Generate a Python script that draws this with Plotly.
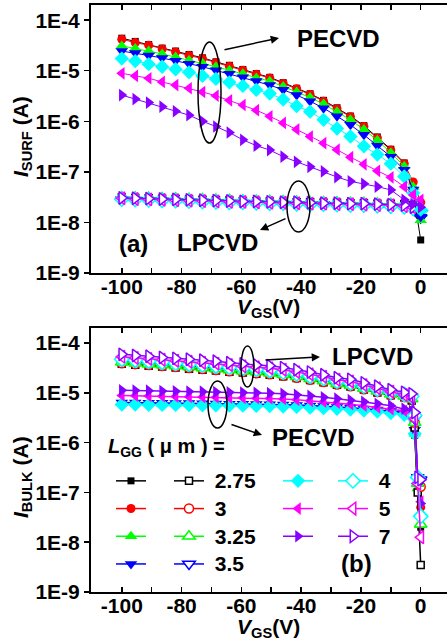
import plotly.graph_objects as go

FONT = "Liberation Sans, Arial, sans-serif"

# ---------------- data ----------------
LGG = ["2.75", "3", "3.25", "3.5", "4", "5", "7"]
COLORS = ["#000000", "#FF0000", "#00FF00", "#0000FF", "#00FFFF", "#FF00FF", "#8800FF"]
SYMBOLS = ["square", "circle", "triangle-up", "triangle-down", "diamond", "triangle-left", "triangle-right"]

VGS_SURF = [-100, -95.5, -91, -86.5, -82, -77.5, -73, -68.5, -64, -59.5, -55, -50.5,
            -46, -41.5, -37, -32.5, -28, -23.5, -19, -14.5, -10, -5.5, -2.5, 0]
VGS_BULK = [-100, -95.5, -91, -86.5, -82, -77.5, -73, -68.5, -64, -59.5, -55, -50.5,
            -46, -41.5, -37, -32.5, -28, -23.5, -19, -14.5, -10, -5.5, -3, -2, -1, 0]

# (a) I_SURF, PECVD (filled symbols)
SURF_PE_275 = [4.4e-5, 3.8e-5, 3.3e-5, 2.8e-5, 2.45e-5, 2.1e-5, 1.8e-5, 1.5e-5, 1.28e-5, 1.06e-5, 8.8e-6, 7.4e-6,
               5.8e-6, 4.5e-6, 3.5e-6, 2.6e-6, 1.85e-6, 1.27e-6, 8.2e-7, 4.9e-7, 2.8e-7, 1.5e-7, 4.0e-8, 4.5e-9]
SURF_PE_3 = [4.2e-5, 3.6e-5, 3.2e-5, 2.7e-5, 2.35e-5, 2.0e-5, 1.74e-5, 1.45e-5, 1.23e-5, 1.02e-5, 8.5e-6, 7.2e-6,
             5.6e-6, 4.4e-6, 3.4e-6, 2.5e-6, 1.78e-6, 1.23e-6, 7.9e-7, 4.7e-7, 2.7e-7, 1.45e-7, 6.3e-8, 2.5e-8]
SURF_PE_325 = [3.1e-5, 2.75e-5, 2.45e-5, 2.15e-5, 1.86e-5, 1.62e-5, 1.41e-5, 1.2e-5, 1.02e-5, 8.7e-6, 7.2e-6, 6.2e-6,
               4.9e-6, 3.8e-6, 2.95e-6, 2.2e-6, 1.55e-6, 1.07e-6, 6.9e-7, 4.2e-7, 2.4e-7, 1.29e-7, 5.0e-8, 1.1e-8]
SURF_PE_35 = [2.45e-5, 2.25e-5, 2.0e-5, 1.78e-5, 1.58e-5, 1.38e-5, 1.2e-5, 1.02e-5, 8.7e-6, 7.4e-6, 6.3e-6, 5.2e-6,
              4.2e-6, 3.3e-6, 2.5e-6, 1.82e-6, 1.26e-6, 8.5e-7, 5.4e-7, 3.3e-7, 2.0e-7, 1.1e-7, 4.5e-8, 1.3e-8]
SURF_PE_4 = [1.74e-5, 1.55e-5, 1.35e-5, 1.2e-5, 1.07e-5, 9.3e-6, 7.9e-6, 6.9e-6, 5.9e-6, 5.0e-6, 4.2e-6, 3.55e-6,
             2.7e-6, 2.0e-6, 1.55e-6, 1.07e-6, 7.2e-7, 5.0e-7, 3.2e-7, 2.2e-7, 1.45e-7, 8.1e-8, 3.8e-8, 1.8e-8]
SURF_PE_5 = [8.9e-6, 7.9e-6, 7.1e-6, 6.0e-6, 5.2e-6, 4.5e-6, 3.8e-6, 3.2e-6, 2.6e-6, 2.1e-6, 1.66e-6, 1.26e-6,
             9.3e-7, 6.9e-7, 5.0e-7, 3.7e-7, 2.75e-7, 1.95e-7, 1.41e-7, 1.05e-7, 7.8e-8, 5.1e-8, 3.5e-8, 2.8e-8]
SURF_PE_7 = [3.3e-6, 2.75e-6, 2.35e-6, 1.95e-6, 1.58e-6, 1.32e-6, 1.0e-6, 7.9e-7, 6.0e-7, 4.3e-7, 3.3e-7, 2.7e-7,
             2.0e-7, 1.58e-7, 1.26e-7, 1.02e-7, 7.9e-8, 6.5e-8, 5.8e-8, 5.1e-8, 4.4e-8, 2.8e-8, 2.3e-8, 2.0e-8]

# (a) I_SURF, LPCVD (open symbols)
SURF_LP_275 = [3.1e-8, 3.05e-8, 3.0e-8, 2.95e-8, 2.9e-8, 2.85e-8, 2.8e-8, 2.75e-8, 2.7e-8, 2.65e-8, 2.6e-8, 2.6e-8,
               2.55e-8, 2.5e-8, 2.5e-8, 2.45e-8, 2.45e-8, 2.4e-8, 2.4e-8, 2.35e-8, 2.35e-8, 2.3e-8, 2.2e-8, 1.7e-8]
SURF_LP_3 = [3.0e-8, 2.95e-8, 2.9e-8, 2.85e-8, 2.8e-8, 2.75e-8, 2.7e-8, 2.65e-8, 2.6e-8, 2.6e-8, 2.55e-8, 2.5e-8,
             2.5e-8, 2.45e-8, 2.4e-8, 2.4e-8, 2.35e-8, 2.35e-8, 2.3e-8, 2.3e-8, 2.25e-8, 2.2e-8, 2.0e-8, 1.6e-8]
SURF_LP_325 = [3.2e-8, 3.15e-8, 3.1e-8, 3.05e-8, 3.0e-8, 2.95e-8, 2.9e-8, 2.85e-8, 2.8e-8, 2.75e-8, 2.7e-8, 2.7e-8,
               2.65e-8, 2.6e-8, 2.55e-8, 2.55e-8, 2.5e-8, 2.45e-8, 2.45e-8, 2.4e-8, 2.35e-8, 2.3e-8, 2.0e-8, 1.5e-8]
SURF_LP_35 = [2.8e-8, 2.75e-8, 2.7e-8, 2.65e-8, 2.6e-8, 2.55e-8, 2.5e-8, 2.45e-8, 2.4e-8, 2.4e-8, 2.35e-8, 2.3e-8,
              2.3e-8, 2.25e-8, 2.2e-8, 2.2e-8, 2.15e-8, 2.1e-8, 2.1e-8, 2.05e-8, 2.0e-8, 1.95e-8, 1.8e-8, 1.25e-8]
SURF_LP_4 = [2.9e-8, 2.85e-8, 2.8e-8, 2.75e-8, 2.7e-8, 2.65e-8, 2.6e-8, 2.55e-8, 2.5e-8, 2.5e-8, 2.45e-8, 2.4e-8,
             2.4e-8, 2.35e-8, 2.3e-8, 2.3e-8, 2.25e-8, 2.2e-8, 2.2e-8, 2.15e-8, 2.1e-8, 2.05e-8, 1.9e-8, 1.7e-8]
SURF_LP_5 = [3.0e-8, 2.9e-8, 2.85e-8, 2.8e-8, 2.75e-8, 2.7e-8, 2.65e-8, 2.6e-8, 2.55e-8, 2.55e-8, 2.5e-8, 2.45e-8,
             2.45e-8, 2.4e-8, 2.35e-8, 2.35e-8, 2.3e-8, 2.3e-8, 2.25e-8, 2.2e-8, 2.2e-8, 2.1e-8, 1.95e-8, 1.8e-8]
SURF_LP_7 = [3.05e-8, 3.0e-8, 2.95e-8, 2.9e-8, 2.85e-8, 2.8e-8, 2.75e-8, 2.7e-8, 2.65e-8, 2.6e-8, 2.6e-8, 2.55e-8,
             2.5e-8, 2.5e-8, 2.45e-8, 2.4e-8, 2.4e-8, 2.35e-8, 2.35e-8, 2.3e-8, 2.25e-8, 2.2e-8, 2.0e-8, 1.75e-8]

# (b) I_BULK, PECVD (filled symbols)
BULK_PE_275 = [6.1e-6, 6.05e-6, 6.0e-6, 6.0e-6, 5.95e-6, 5.9e-6, 5.85e-6, 5.8e-6, 5.8e-6, 5.75e-6, 5.7e-6, 5.65e-6,
               5.55e-6, 5.45e-6, 5.3e-6, 5.15e-6, 5.0e-6, 4.85e-6, 4.65e-6, 4.45e-6, 4.15e-6, 3.85e-6, 3.5e-6, 1.4e-6, 1.0e-7, 2.0e-8]
BULK_PE_3 = [6.0e-6, 6.0e-6, 5.95e-6, 5.9e-6, 5.9e-6, 5.85e-6, 5.8e-6, 5.8e-6, 5.75e-6, 5.7e-6, 5.65e-6, 5.6e-6,
             5.5e-6, 5.4e-6, 5.25e-6, 5.1e-6, 4.95e-6, 4.8e-6, 4.6e-6, 4.4e-6, 4.1e-6, 3.8e-6, 3.5e-6, 1.5e-6, 1.5e-7, 5.0e-8]
BULK_PE_325 = [6.2e-6, 6.2e-6, 6.15e-6, 6.1e-6, 6.05e-6, 6.0e-6, 6.0e-6, 5.95e-6, 5.9e-6, 5.85e-6, 5.8e-6, 5.75e-6,
               5.65e-6, 5.55e-6, 5.4e-6, 5.25e-6, 5.1e-6, 4.9e-6, 4.7e-6, 4.5e-6, 4.2e-6, 3.9e-6, 3.6e-6, 1.5e-6, 1.2e-7, 2.2e-8]
BULK_PE_35 = [6.4e-6, 6.35e-6, 6.3e-6, 6.3e-6, 6.25e-6, 6.2e-6, 6.15e-6, 6.1e-6, 6.05e-6, 6.0e-6, 5.95e-6, 5.9e-6,
              5.8e-6, 5.7e-6, 5.55e-6, 5.4e-6, 5.2e-6, 5.0e-6, 4.8e-6, 4.6e-6, 4.3e-6, 4.0e-6, 3.7e-6, 1.8e-6, 2.0e-7, 1.8e-7]
BULK_PE_4 = [5.8e-6, 5.8e-6, 5.75e-6, 5.7e-6, 5.7e-6, 5.65e-6, 5.6e-6, 5.6e-6, 5.55e-6, 5.5e-6, 5.45e-6, 5.4e-6,
             5.3e-6, 5.2e-6, 5.05e-6, 4.9e-6, 4.75e-6, 4.6e-6, 4.4e-6, 4.2e-6, 3.9e-6, 3.6e-6, 3.3e-6, 1.5e-6, 1.5e-7, 3.5e-8]
BULK_PE_5 = [8.8e-6, 8.7e-6, 8.6e-6, 8.5e-6, 8.4e-6, 8.3e-6, 8.2e-6, 8.1e-6, 8.0e-6, 7.9e-6, 7.8e-6, 7.7e-6,
             7.5e-6, 7.2e-6, 6.9e-6, 6.6e-6, 6.3e-6, 5.9e-6, 5.5e-6, 5.1e-6, 4.7e-6, 4.3e-6, 3.9e-6, 1.8e-6, 1.5e-7, 6.5e-8]
BULK_PE_7 = [1.12e-5, 1.11e-5, 1.1e-5, 1.08e-5, 1.07e-5, 1.06e-5, 1.05e-5, 1.03e-5, 1.02e-5, 1.01e-5, 1.0e-5, 9.8e-6,
             9.5e-6, 9.1e-6, 8.7e-6, 8.1e-6, 7.6e-6, 7.1e-6, 6.6e-6, 6.0e-6, 5.5e-6, 4.8e-6, 4.3e-6, 2.0e-6, 2.0e-7, 6.0e-8]

# (b) I_BULK, LPCVD (open symbols)
BULK_LP_275 = [3.8e-5, 3.65e-5, 3.5e-5, 3.35e-5, 3.2e-5, 3.05e-5, 2.9e-5, 2.8e-5, 2.65e-5, 2.55e-5, 2.4e-5, 2.3e-5,
               2.15e-5, 1.97e-5, 1.8e-5, 1.63e-5, 1.45e-5, 1.33e-5, 1.16e-5, 1.01e-5, 8.9e-6, 8.1e-6, 7.0e-6, 2.0e-6, 1.0e-7, 3.5e-9]
BULK_LP_3 = [3.9e-5, 3.75e-5, 3.6e-5, 3.45e-5, 3.3e-5, 3.15e-5, 3.0e-5, 2.85e-5, 2.7e-5, 2.6e-5, 2.45e-5, 2.35e-5,
             2.2e-5, 2.0e-5, 1.82e-5, 1.65e-5, 1.47e-5, 1.35e-5, 1.18e-5, 1.03e-5, 9.0e-6, 8.2e-6, 7.5e-6, 2.5e-6, 2.0e-7, 1.3e-7]
BULK_LP_325 = [4.1e-5, 3.9e-5, 3.75e-5, 3.6e-5, 3.45e-5, 3.3e-5, 3.15e-5, 3.0e-5, 2.85e-5, 2.7e-5, 2.6e-5, 2.45e-5,
               2.3e-5, 2.1e-5, 1.9e-5, 1.72e-5, 1.52e-5, 1.4e-5, 1.22e-5, 1.07e-5, 9.3e-6, 8.5e-6, 7.5e-6, 2.5e-6, 1.5e-7, 2.3e-8]
BULK_LP_35 = [4.4e-5, 4.2e-5, 4.0e-5, 3.85e-5, 3.7e-5, 3.55e-5, 3.4e-5, 3.25e-5, 3.1e-5, 2.95e-5, 2.8e-5, 2.65e-5,
              2.5e-5, 2.3e-5, 2.05e-5, 1.85e-5, 1.62e-5, 1.5e-5, 1.3e-5, 1.13e-5, 9.8e-6, 8.8e-6, 8.0e-6, 3.0e-6, 2.0e-7, 1.8e-7]
BULK_LP_4 = [4.7e-5, 4.5e-5, 4.3e-5, 4.1e-5, 3.9e-5, 3.75e-5, 3.6e-5, 3.45e-5, 3.25e-5, 3.1e-5, 2.95e-5, 2.8e-5,
             2.6e-5, 2.4e-5, 2.15e-5, 1.95e-5, 1.7e-5, 1.57e-5, 1.36e-5, 1.18e-5, 1.02e-5, 9.2e-6, 8.5e-6, 3.5e-6, 2.0e-7, 3.3e-8]
BULK_LP_5 = [5.3e-5, 5.0e-5, 4.8e-5, 4.6e-5, 4.4e-5, 4.2e-5, 4.0e-5, 3.85e-5, 3.6e-5, 3.4e-5, 3.25e-5, 3.1e-5,
             2.9e-5, 2.6e-5, 2.35e-5, 2.1e-5, 1.82e-5, 1.68e-5, 1.43e-5, 1.23e-5, 1.05e-5, 9.0e-6, 8.0e-6, 3.0e-6, 1.5e-7, 1.25e-8]
BULK_LP_7 = [5.9e-5, 5.6e-5, 5.4e-5, 5.1e-5, 4.9e-5, 4.7e-5, 4.5e-5, 4.3e-5, 4.0e-5, 3.8e-5, 3.6e-5, 3.5e-5,
             3.2e-5, 2.9e-5, 2.6e-5, 2.3e-5, 2.0e-5, 1.86e-5, 1.58e-5, 1.35e-5, 1.15e-5, 1.02e-5, 9.5e-6, 4.0e-6, 2.0e-7, 1.8e-7]

SURF_PE = [SURF_PE_275, SURF_PE_3, SURF_PE_325, SURF_PE_35, SURF_PE_4, SURF_PE_5, SURF_PE_7]
SURF_LP = [SURF_LP_275, SURF_LP_3, SURF_LP_325, SURF_LP_35, SURF_LP_4, SURF_LP_5, SURF_LP_7]
BULK_PE = [BULK_PE_275, BULK_PE_3, BULK_PE_325, BULK_PE_35, BULK_PE_4, BULK_PE_5, BULK_PE_7]
BULK_LP = [BULK_LP_275, BULK_LP_3, BULK_LP_325, BULK_LP_35, BULK_LP_4, BULK_LP_5, BULK_LP_7]

YTICKS = [1e-9, 1e-8, 1e-7, 1e-6, 1e-5, 1e-4]
YTICKTEXT = ["1E-9", "1E-8", "1E-7", "1E-6", "1E-5", "1E-4"]
XTICKS = [-100, -80, -60, -40, -20, 0]
XTICKTEXT = ["-100", "-80", "-60", "-40", "-20", "0"]

# ---------------- layout helpers (pixel -> paper) ----------------
W, H = 447, 642
ML, MR, MT, MB = 91, 0, 5, 50
PW, PH = W - ML - MR, H - MT - MB


def px(x):
    return (x - ML) / PW


def py(y):
    return (H - MB - y) / PH


SIZES = {"square": 7, "circle": 9, "triangle-up": 11, "triangle-down": 11,
         "diamond": 11, "triangle-left": 11, "triangle-right": 11}

fig = go.Figure()


def add_series(xv, yv, i, filled, xa, ya, lw=1.0, legend=None):
    color, symbol = COLORS[i], SYMBOLS[i]
    mk = dict(symbol=symbol, size=SIZES[symbol], color=color if filled else "white",
              line=dict(color=color, width=0 if filled else 1.5))
    if legend is not None:
        kw = dict(showlegend=True, legend=legend,
                  name=" " if filled else "<span style='font-size:21px'>\u00a0%s</span>" % LGG[i])
    else:
        kw = dict(showlegend=False)
    fig.add_trace(go.Scatter(x=xv, y=yv, mode="lines+markers", xaxis=xa, yaxis=ya,
                             line=dict(color=color, width=lw), marker=mk,
                             hoverinfo="skip", **kw))


for i in range(7):
    add_series(VGS_SURF, SURF_LP[i], i, False, "x", "y")
for i in range(7):
    add_series(VGS_SURF, SURF_PE[i], i, True, "x", "y")
for i in range(7):
    add_series(VGS_BULK, BULK_PE[i], i, True, "x2", "y2", lw=1.5,
               legend="legend" if i < 4 else "legend3")
for i in range(7):
    add_series(VGS_BULK, BULK_LP[i], i, False, "x2", "y2", lw=1.5,
               legend="legend2" if i < 4 else "legend4")

tickfont = dict(family=FONT, size=21, color="black", weight="bold")


def xaxis_cfg(anchor):
    return dict(anchor=anchor, range=[-110.3, 8.8], showline=True, linecolor="black", linewidth=2,
                mirror="allticks", ticks="inside", ticklen=5, tickwidth=1.5, tickcolor="black",
                tickmode="array", tickvals=XTICKS, ticktext=XTICKTEXT, tickfont=tickfont,
                ticklabelstandoff=-6,
                showgrid=False, zeroline=False,
                minor=dict(tickmode="array", tickvals=[-110, -90, -70, -50, -30, -10],
                           ticks="inside", ticklen=5, tickwidth=1.5, tickcolor="black", showgrid=False))


def yaxis_cfg(anchor, domain):
    return dict(anchor=anchor, domain=domain, type="log", range=[-9, -3.7], showline=True,
                linecolor="black", linewidth=2, mirror=False, ticks="outside", ticklen=5,
                tickwidth=1.5, tickcolor="black", tickmode="array", tickvals=YTICKS,
                ticktext=YTICKTEXT, tickfont=tickfont, showgrid=False, zeroline=False)


legend_common = dict(bgcolor="rgba(0,0,0,0)", borderwidth=0, xanchor="left", yanchor="top",
                     font=dict(family=FONT, size=19, color="black", weight="bold"),
                     tracegroupgap=0, itemclick=False, itemdoubleclick=False, traceorder="normal")
LEG_TOP = 462
fig.update_layout(
    width=W, height=H, margin=dict(l=ML, r=MR, t=MT, b=MB),
    paper_bgcolor="white", plot_bgcolor="white",
    xaxis=xaxis_cfg("y"), yaxis=yaxis_cfg("x", [py(273), 1.0]),
    xaxis2=xaxis_cfg("y2"), yaxis2=yaxis_cfg("x2", [0.0, py(328)]),
    legend=dict(x=px(111), y=py(LEG_TOP), **legend_common),
    legend2=dict(x=px(169), y=py(LEG_TOP), **legend_common),
    legend3=dict(x=px(278), y=py(LEG_TOP), **legend_common),
    legend4=dict(x=px(333), y=py(LEG_TOP), **legend_common),
    showlegend=True,
)

ann = []


def text(x, y, t, size=24, xanchor="center", angle=0):
    ann.append(dict(x=px(x), y=py(y), xref="paper", yref="paper", text=t, showarrow=False,
                    xanchor=xanchor, yanchor="middle", textangle=angle,
                    font=dict(family=FONT, size=size, color="black")))


def arrow(tx, ty, hx, hy):
    ann.append(dict(x=px(hx), y=py(hy), xref="paper", yref="paper", text="", showarrow=True,
                    ax=tx - hx, ay=ty - hy, arrowhead=2, arrowsize=1.1, arrowwidth=1.5,
                    arrowcolor="black", standoff=0))


# axis titles
text(268, 308, "<b><i>V</i><sub>GS</sub>(V)</b>", size=21)
text(268, 628, "<b><i>V</i><sub>GS</sub>(V)</b>", size=21)
text(22, 137, "<b><i>I</i><sub>SURF</sub> (A)</b>", size=21, angle=-90)
text(22, 477, "<b><i>I</i><sub>BULK</sub> (A)</b>", size=21, angle=-90)

# panel labels and process labels
text(338, 38, "<b>PECVD</b>")
text(217, 242, "<b>LPCVD</b>")
text(133, 243, "<b>(a)</b>")
text(372, 356, "<b>LPCVD</b>")
text(313, 437, "<b>PECVD</b>")
text(356, 563, "<b>(b)</b>")
text(106, 447, "<b><i>L</i><sub>GG</sub> ( μ m ) =</b>", size=20, xanchor="left")

arrow(223, 50, 279, 38)
arrow(287, 218, 260, 230)
arrow(264, 360, 320, 357)
arrow(230, 424, 262, 435)

shapes = []
for (x0, x1, y0, y1) in [(198, 221, 42, 143), (287, 310, 181, 232), (241, 254, 346, 387), (208, 227, 381, 428)]:
    shapes.append(dict(type="circle", xref="paper", yref="paper", x0=px(x0), x1=px(x1),
                       y0=py(y1), y1=py(y0), line=dict(color="black", width=1.5)))

fig.update_layout(annotations=ann, shapes=shapes)
fig.write_html("out.html", config={"displayModeBar": False, "staticPlot": True},
               post_script="document.body.style.margin='0';document.body.style.overflow='hidden';")
